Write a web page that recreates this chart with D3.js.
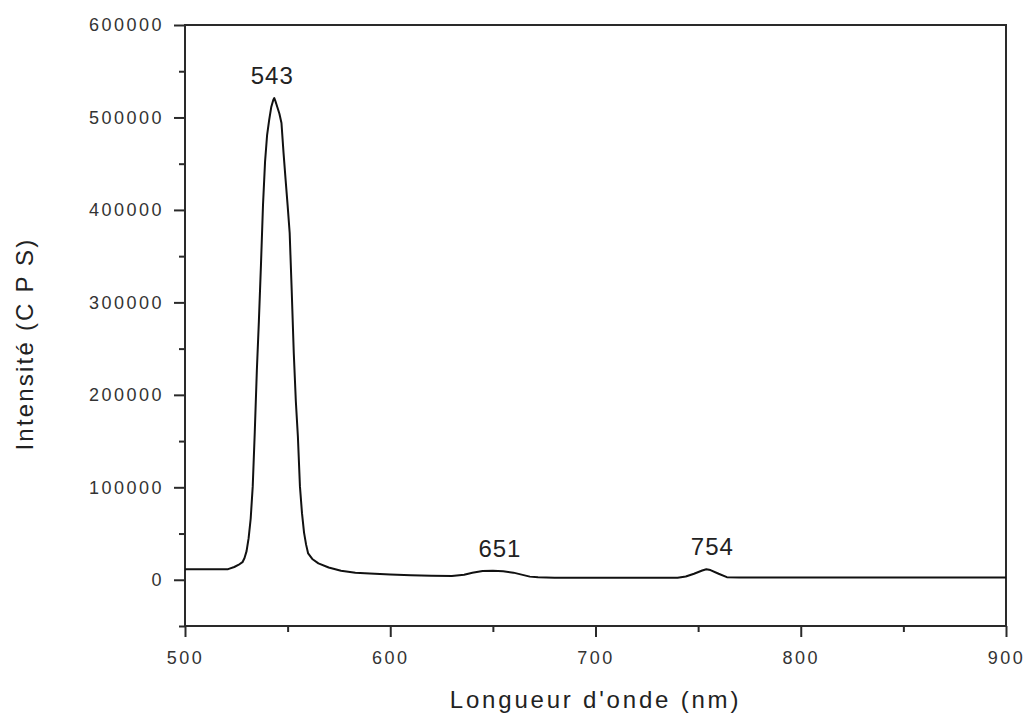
<!DOCTYPE html>
<html>
<head>
<meta charset="utf-8">
<script src="https://cdn.jsdelivr.net/npm/d3@7"></script>
<style>
  html, body { margin: 0; padding: 0; background: #fff; }
  svg { display: block; font-family: "Liberation Sans", Arial, sans-serif; }
</style>
</head>
<body>
<svg id="chart" width="1030" height="720"></svg>
<script>
// Emission spectrum: wavelength (nm) and intensity (counts per second)
const wavelength = [
  500, 505, 510, 515, 518, 521, 524, 526, 528, 529, 530, 531, 532, 533, 534, 535,
  536, 537, 538, 539, 540, 541, 542, 543, 543.5, 544, 545, 546, 547, 548, 549, 550,
  551, 552, 553, 554, 555, 556, 557, 558, 559, 560, 562, 565, 570, 576, 583, 590,
  600, 610, 620, 630, 636, 640, 645, 650, 655, 660, 665, 668, 672, 680, 700, 720,
  740, 744, 748, 752, 754, 756, 760, 764, 770, 800, 850, 900
];
const intensity = [
  11400, 11400, 11300, 11300, 11300, 11500, 13800, 16000, 19000, 23500, 31000, 45000, 66000, 101000, 160000, 226000,
  280000, 340000, 405000, 452000, 481000, 497000, 511000, 519000, 521000, 518000, 511000, 504000, 494000, 462000, 433000, 405000,
  375000, 312000, 245000, 193000, 155000, 101000, 72000, 51000, 38000, 28500, 22500, 17800, 13300, 9800, 7700, 6800,
  5800, 4900, 4400, 4100, 5500, 7500, 9500, 9800, 9200, 7700, 5000, 3400, 2700, 2300, 2300, 2300,
  2300, 3500, 6500, 10000, 11400, 10500, 6500, 2800, 2400, 2400, 2400, 2500
];

// Peak annotations
const peakLabels = ["543", "651", "754"];
const peakWavelengths = [543, 651, 754];
const peakIntensities = [521000, 9800, 11400];

// Axis ticks
const xTicks = [500, 600, 700, 800, 900];
const xMinorTicks = [550, 650, 750, 850];
const yTicks = [0, 100000, 200000, 300000, 400000, 500000, 600000];
const yMinorTicks = [-50000, 50000, 150000, 250000, 350000, 450000, 550000];

const xTitle = "Longueur d'onde (nm)";
const yTitle = "Intensité (C P S)";

const svg = d3.select("#chart");
const plot = { left: 185, right: 1006, top: 25, bottom: 626 };

const x = d3.scaleLinear().domain([500, 900]).range([plot.left, plot.right]);
const y = d3.scaleLinear().domain([-50000, 600000]).range([plot.bottom, plot.top]);

const axisColor = "#2a2a2a";
const textColor = "#333";

// Frame
svg.append("rect")
  .attr("x", plot.left).attr("y", plot.top)
  .attr("width", plot.right - plot.left).attr("height", plot.bottom - plot.top)
  .attr("fill", "none").attr("stroke", axisColor).attr("stroke-width", 2);

function styleAxis(g) {
  g.select(".domain").remove();
  g.selectAll("line").attr("stroke", axisColor).attr("stroke-width", 2);
}

// Bottom axis: major ticks with labels, minor ticks without
const xAxis = svg.append("g").attr("transform", `translate(0,${plot.bottom})`)
  .call(d3.axisBottom(x).tickValues(xTicks).tickSize(11).tickPadding(14).tickFormat(d3.format("d")));
styleAxis(xAxis);
xAxis.selectAll("text")
  .attr("font-size", 18).attr("fill", textColor).attr("letter-spacing", 2.5)
  .attr("font-family", "Liberation Sans, Arial, sans-serif");

const xMinor = svg.append("g").attr("transform", `translate(0,${plot.bottom})`)
  .call(d3.axisBottom(x).tickValues(xMinorTicks).tickSize(6).tickFormat(""));
styleAxis(xMinor);

// Left axis
const yAxis = svg.append("g").attr("transform", `translate(${plot.left},0)`)
  .call(d3.axisLeft(y).tickValues(yTicks).tickSize(11).tickPadding(10).tickFormat(d3.format("d")));
styleAxis(yAxis);
yAxis.selectAll("text")
  .attr("font-size", 18).attr("fill", textColor).attr("letter-spacing", 2.5)
  .attr("font-family", "Liberation Sans, Arial, sans-serif");

const yMinor = svg.append("g").attr("transform", `translate(${plot.left},0)`)
  .call(d3.axisLeft(y).tickValues(yMinorTicks).tickSize(6).tickFormat(""));
styleAxis(yMinor);

// Spectrum line
const data = wavelength.map((w, i) => ({ w, v: intensity[i] }));
svg.append("path")
  .datum(data)
  .attr("fill", "none")
  .attr("stroke", "#111")
  .attr("stroke-width", 2)
  .attr("stroke-linejoin", "round")
  .attr("d", d3.line().x(d => x(d.w)).y(d => y(d.v)));

// Peak labels
const labelNudge = [-1, 5, 6];
svg.append("g").selectAll("text")
  .data(peakLabels)
  .join("text")
  .attr("x", (d, i) => x(peakWavelengths[i]) + labelNudge[i])
  .attr("y", (d, i) => y(peakIntensities[i]) - 14)
  .attr("text-anchor", "middle")
  .attr("font-size", 24)
  .attr("letter-spacing", 1)
  .attr("fill", "#222")
  .text(d => d);

// Axis titles
svg.append("text")
  .attr("x", (plot.left + plot.right) / 2)
  .attr("y", 708)
  .attr("text-anchor", "middle")
  .attr("font-size", 24)
  .attr("letter-spacing", 2.8)
  .attr("fill", "#222")
  .text(xTitle);

svg.append("text")
  .attr("transform", `translate(33,344) rotate(-90)`)
  .attr("text-anchor", "middle")
  .attr("font-size", 24)
  .attr("letter-spacing", 2.2)
  .attr("fill", "#222")
  .text(yTitle);
</script>
</body>
</html>
